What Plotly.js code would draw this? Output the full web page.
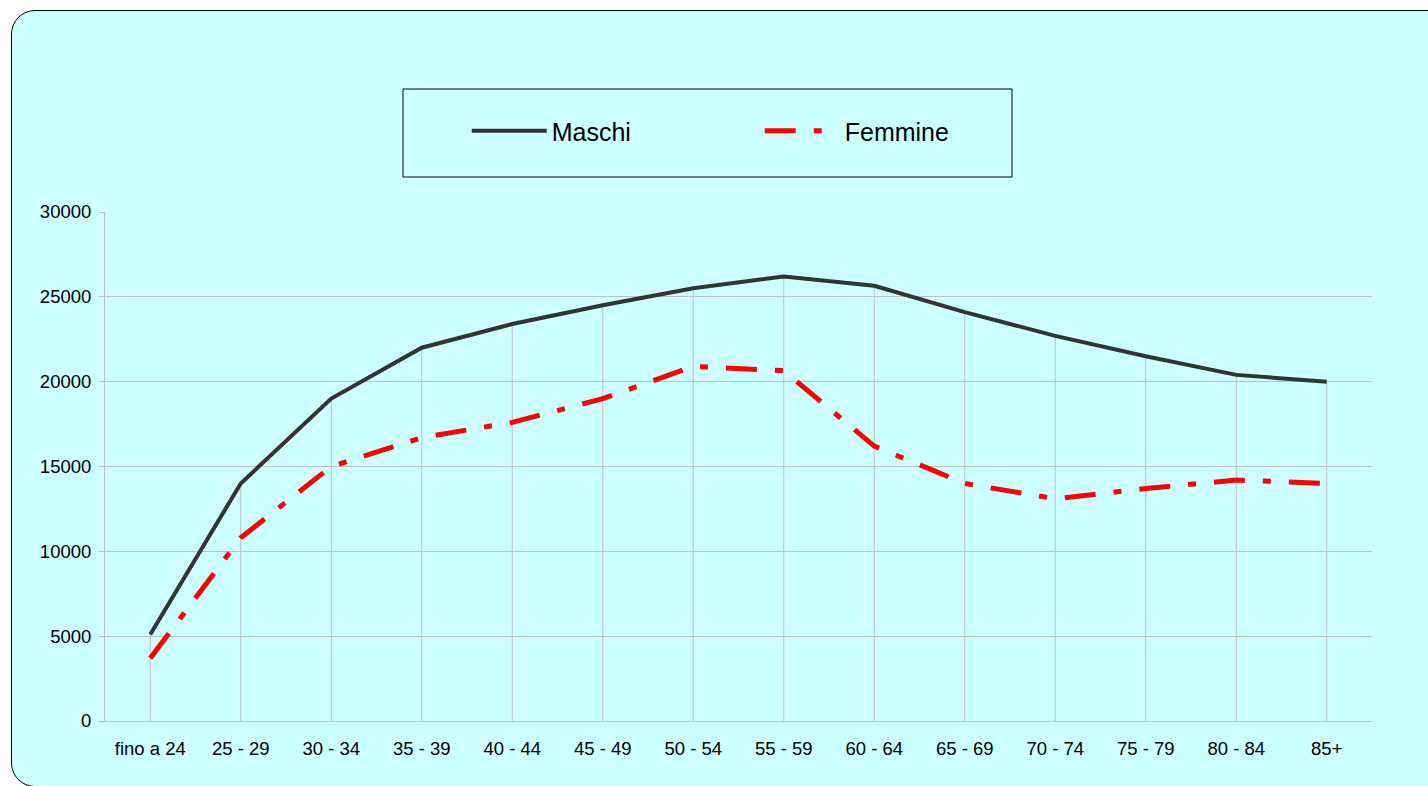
<!DOCTYPE html>
<html>
<head>
<meta charset="utf-8">
<script src="https://cdn.plot.ly/plotly-3.0.1.min.js"></script>
<style>
  html, body { margin: 0; padding: 0; background: #ffffff; width: 1428px; height: 786px; overflow: hidden; }
  #frame {
    position: absolute; left: 11px; top: 10px; width: 1500px; height: 777px;
    border: 1.5px solid #000; border-radius: 24px; background: #CCFFFF; box-sizing: border-box;
  }
  #chart { position: absolute; left: 0; top: 0; width: 1428px; height: 786px; }
</style>
</head>
<body>
<div id="frame"></div>
<div id="chart"></div>
<script>
const categories = ["fino a 24", "25 - 29", "30 - 34", "35 - 39", "40 - 44", "45 - 49", "50 - 54",
                    "55 - 59", "60 - 64", "65 - 69", "70 - 74", "75 - 79", "80 - 84", "85+"];
const maschi  = [5100, 14000, 19000, 22000, 23400, 24500, 25500, 26200, 25650, 24100, 22700, 21500, 20400, 20000];
const femmine = [3700, 10800, 15000, 16700, 17600, 19000, 20900, 20650, 16200, 14000, 13100, 13700, 14200, 14000];
const yTicks = [0, 5000, 10000, 15000, 20000, 25000, 30000];

const fontFamily = "Liberation Sans, Arial, sans-serif";
const gridColor = "#C0C0C0";

// drop lines from the highest series down to the axis
const dropLines = {
  x: categories, y: maschi, type: "scatter", mode: "markers",
  marker: { size: 1, opacity: 0 }, showlegend: false, hoverinfo: "skip",
  error_y: { type: "data", symmetric: false, array: maschi.map(() => 0), arrayminus: maschi,
             color: gridColor, thickness: 1, width: 0 }
};

const traceM = {
  x: categories, y: maschi, name: "Maschi", type: "scatter", mode: "lines",
  line: { color: "#333333", width: 4 }
};
const traceF = {
  x: categories, y: femmine, name: "Femmine", type: "scatter", mode: "lines",
  line: { color: "#FF0000", width: 5, dash: "31px,18px,8px,18px" }
};

const layout = {
  width: 1428, height: 786,
  paper_bgcolor: "rgba(0,0,0,0)", plot_bgcolor: "rgba(0,0,0,0)",
  margin: { l: 105, r: 56, t: 212, b: 65 },
  font: { family: fontFamily, color: "#000", size: 18 },
  showlegend: true,
  legend: {
    orientation: "h", x: 0.2855, xanchor: "left", y: 1.159, yanchor: "middle",
    font: { family: fontFamily, size: 25, color: "#000" },
    bgcolor: "rgba(0,0,0,0)", borderwidth: 0,
    itemwidth: 75, entrywidth: 203, entrywidthmode: "pixels", traceorder: "normal"
  },
  xaxis: {
    type: "category", range: [-0.5, categories.length - 0.5],
    showgrid: false, zeroline: false, showline: true, linecolor: gridColor, linewidth: 1,
    ticks: "", ticklabelstandoff: 11,
    tickfont: { family: fontFamily, size: 18.5, color: "#000" }, fixedrange: true
  },
  yaxis: {
    range: [0, 30000], tickvals: yTicks, ticktext: yTicks.map(String),
    showgrid: true, gridcolor: gridColor, gridwidth: 1, zeroline: false,
    showline: true, linecolor: gridColor, linewidth: 1,
    ticks: "outside", ticklen: 5, tickcolor: gridColor, tickwidth: 1, ticklabelstandoff: 4,
    tickfont: { family: fontFamily, size: 18.5, color: "#000" }, fixedrange: true
  },
  shapes: [{
    type: "rect", xref: "paper", yref: "paper",
    x0: (403 - 105) / 1267, x1: (1012 - 105) / 1267,
    y0: (721 - 177) / 509, y1: (721 - 89) / 509,
    line: { color: "#000", width: 1 }, fillcolor: "rgba(0,0,0,0)", layer: "below"
  }]
};

Plotly.newPlot("chart", [dropLines, traceM, traceF], layout, { displayModeBar: false, staticPlot: true });
</script>
</body>
</html>
